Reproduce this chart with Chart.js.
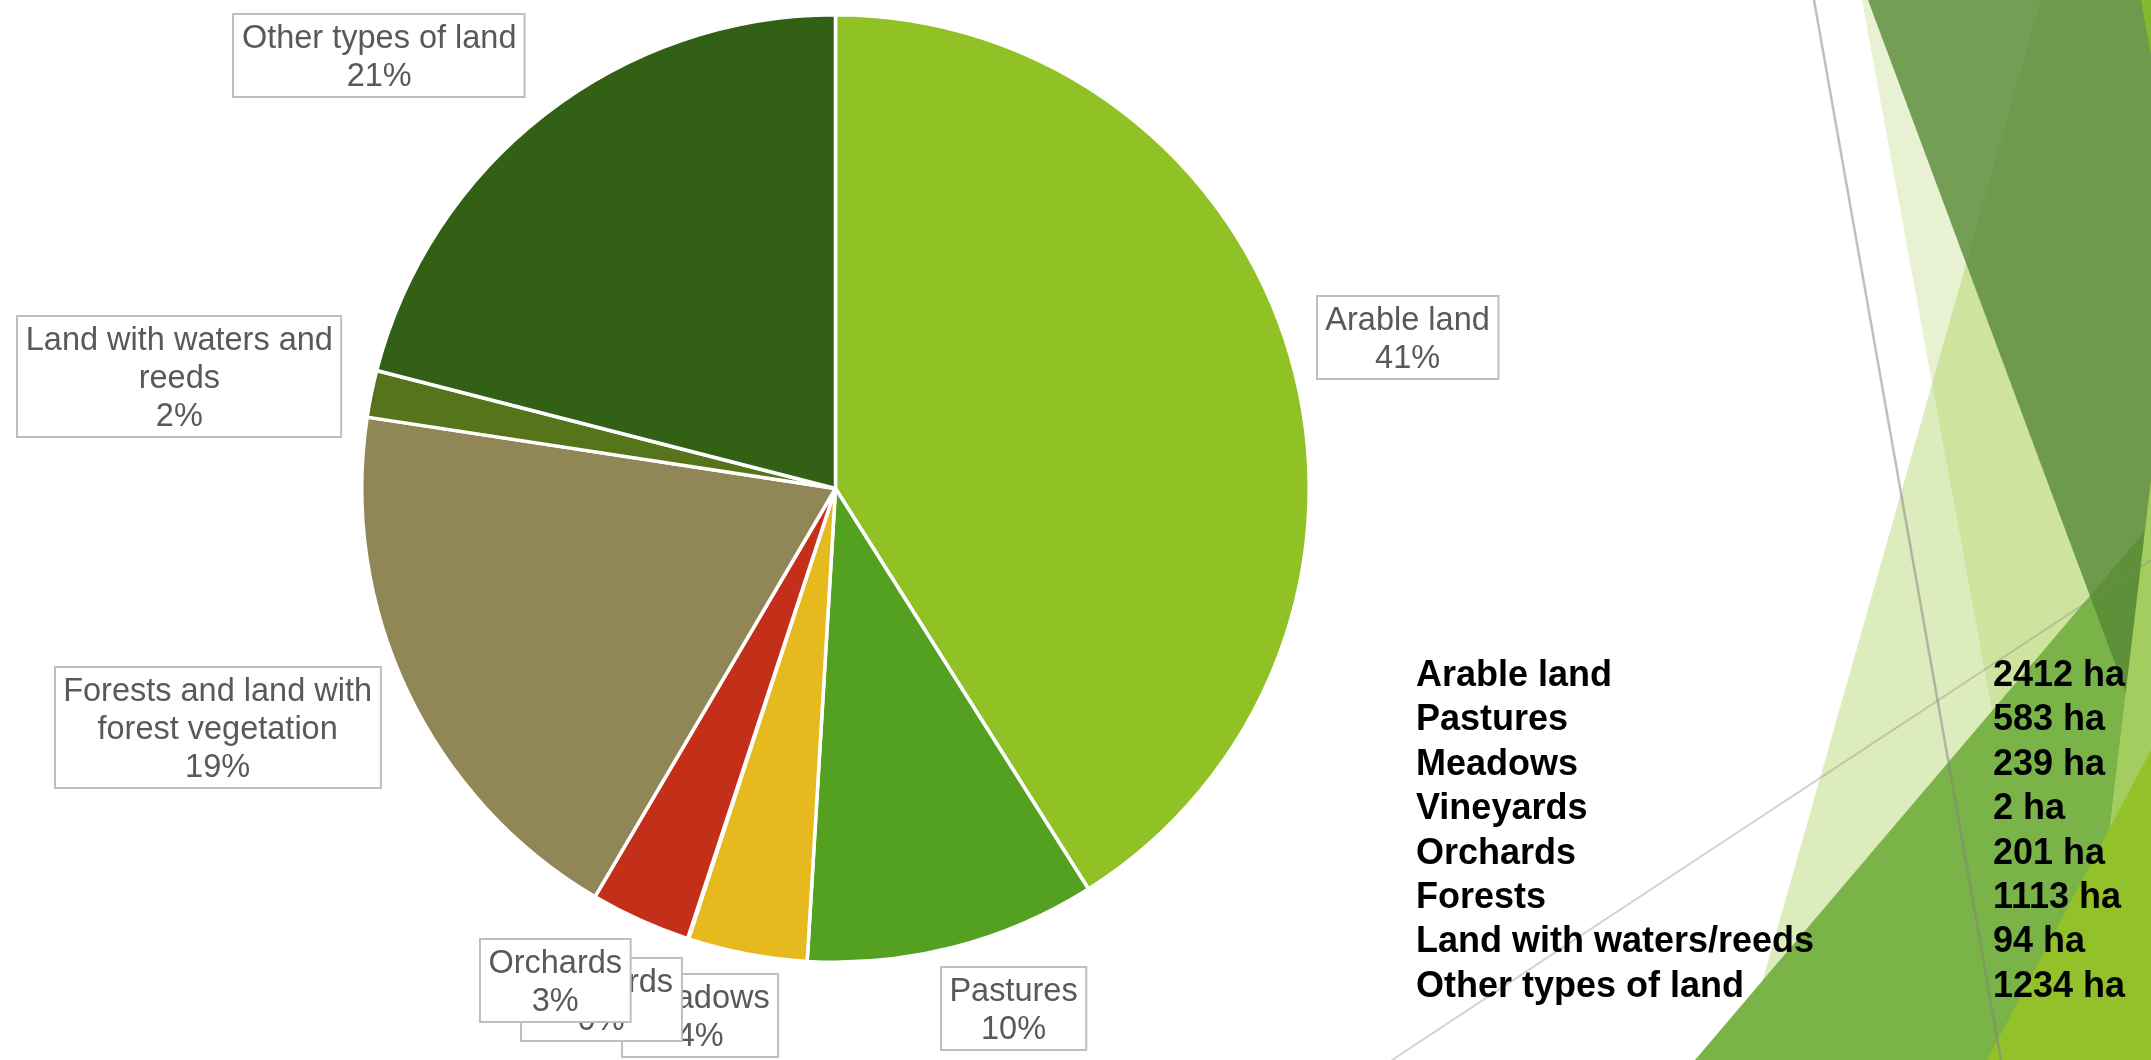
<!DOCTYPE html>
<html>
<head>
<meta charset="utf-8">
<script src="https://cdn.jsdelivr.net/npm/chart.js@4.4.1/dist/chart.umd.min.js"></script>
<style>
  html, body { margin: 0; padding: 0; background: #fff; }
  #slide { position: relative; width: 2151px; height: 1060px; overflow: hidden; }
  #deco, #pie { position: absolute; left: 0; top: 0; }
  #table { position: absolute; left: 1416px; top: 652px; font: bold 36px "Liberation Sans", Arial, sans-serif; line-height: 44.4px; color: #000; }
  #table .row { position: relative; height: 44.4px; white-space: nowrap; }
  #table .val { position: absolute; left: 577px; top: 0; }
</style>
</head>
<body>
<div id="slide">
  <!-- slide theme decoration on the right -->
  <svg id="deco" width="2151" height="1060">
    <polygon points="1862,0 2151,0 2151,1060 2056,1060" fill="rgb(146,193,42)" fill-opacity="0.21"/>
    <polygon points="2041,0 2151,0 2151,1060 1740,1060" fill="rgb(146,193,42)" fill-opacity="0.31"/>
    <polygon points="1695,1060 2151,524 2151,1060" fill="#7ab448"/>
    <polygon points="1868,0 2151,0 2151,760" fill="rgb(86,135,54)" fill-opacity="0.8"/>
    <polygon points="2151,480 2151,1060 2082,1060" fill="#a3cd5e"/>
    <polygon points="1987,1060 2151,750 2151,1060" fill="#93c12a"/>
    <polygon points="2141,0 2151,0 2151,55" fill="#84b82e"/>
    <line x1="1814" y1="0" x2="2001" y2="1060" stroke="rgba(128,128,128,0.5)" stroke-width="2.5"/>
    <line x1="1392" y1="1060" x2="2151" y2="560" stroke="rgba(128,128,128,0.35)" stroke-width="2"/>
  </svg>
  <canvas id="pie" width="2151" height="1060"></canvas>
  <div id="table"></div>
</div>
<script>
var landTypes = ['Arable land', 'Pastures', 'Meadows', 'Vineyards', 'Orchards',
                 'Forests and land with forest vegetation', 'Land with waters and reeds', 'Other types of land'];
var tableLabels = ['Arable land', 'Pastures', 'Meadows', 'Vineyards', 'Orchards',
                   'Forests', 'Land with waters/reeds', 'Other types of land'];
var areaHa = [2412, 583, 239, 2, 201, 1113, 94, 1234];
var sliceColors = ['#90c226', '#54a021', '#e6b91e', '#e76618', '#c42f1a', '#918655', '#56741a', '#326014'];

// how the data labels wrap, and where they sit relative to the slice's outer edge
var labelLines = [['Arable land'], ['Pastures'], ['Meadows'], ['Vineyards'], ['Orchards'],
                  ['Forests and land with', 'forest vegetation'], ['Land with waters and', 'reeds'], ['Other types of land']];
var labelNudge = [[117, -19], [60, 61], [-47, 62], [-87, 61], [-85, 60], [-190, 36], [-192, -17], [-166, -59]];

// table of hectares
var tbl = document.getElementById('table');
tableLabels.forEach(function(name, i) {
    var row = document.createElement('div');
    row.className = 'row';
    row.innerHTML = '<span>' + name + '</span><span class="val">' + areaHa[i] + ' ha</span>';
    tbl.appendChild(row);
});

var boxLabels = {
    id: 'boxLabels',
    afterDatasetsDraw: function(chart) {
        var ctx = chart.ctx;
        var meta = chart.getDatasetMeta(0);
        var total = areaHa.reduce(function(a, b) { return a + b; }, 0);
        ctx.save();
        ctx.font = '32.5px "Liberation Sans", Arial, sans-serif';
        ctx.textAlign = 'center';
        ctx.textBaseline = 'middle';
        meta.data.forEach(function(arc, i) {
            var p = arc.getProps(['x', 'y', 'startAngle', 'endAngle', 'outerRadius'], true);
            var mid = (p.startAngle + p.endAngle) / 2;
            var cx = p.x + Math.cos(mid) * p.outerRadius + labelNudge[i][0];
            var cy = p.y + Math.sin(mid) * p.outerRadius + labelNudge[i][1];
            var lines = labelLines[i].concat([Math.round(areaHa[i] / total * 100) + '%']);
            var w = Math.max.apply(null, lines.map(function(t) { return ctx.measureText(t).width; })) + 17;
            var h = lines.length * 38 + 7;
            var x0 = Math.round(cx - w / 2), y0 = Math.round(cy - h / 2);
            ctx.fillStyle = '#fff';
            ctx.fillRect(x0, y0, w, h);
            ctx.strokeStyle = '#bfbfbf';
            ctx.lineWidth = 2;
            ctx.strokeRect(x0, y0, w, h);
            ctx.fillStyle = '#595959';
            lines.forEach(function(t, j) {
                ctx.fillText(t, cx, y0 + 3.5 + 22 + j * 38);
            });
        });
        ctx.restore();
    }
};

var ctxPie = document.getElementById('pie').getContext('2d');
var landChart = new Chart(ctxPie, {
    type: 'pie',
    data: {
        labels: landTypes,
        datasets: [{
            data: areaHa,
            backgroundColor: sliceColors,
            borderColor: '#ffffff',
            borderWidth: 3.5
        }]
    },
    options: {
        responsive: false,
        devicePixelRatio: 1,
        animation: false,
        layout: { padding: { left: 360, right: 840, top: 13, bottom: 96 } },
        plugins: {
            legend: { display: false },
            tooltip: { enabled: false }
        }
    },
    plugins: [boxLabels]
});
</script>
</body>
</html>
